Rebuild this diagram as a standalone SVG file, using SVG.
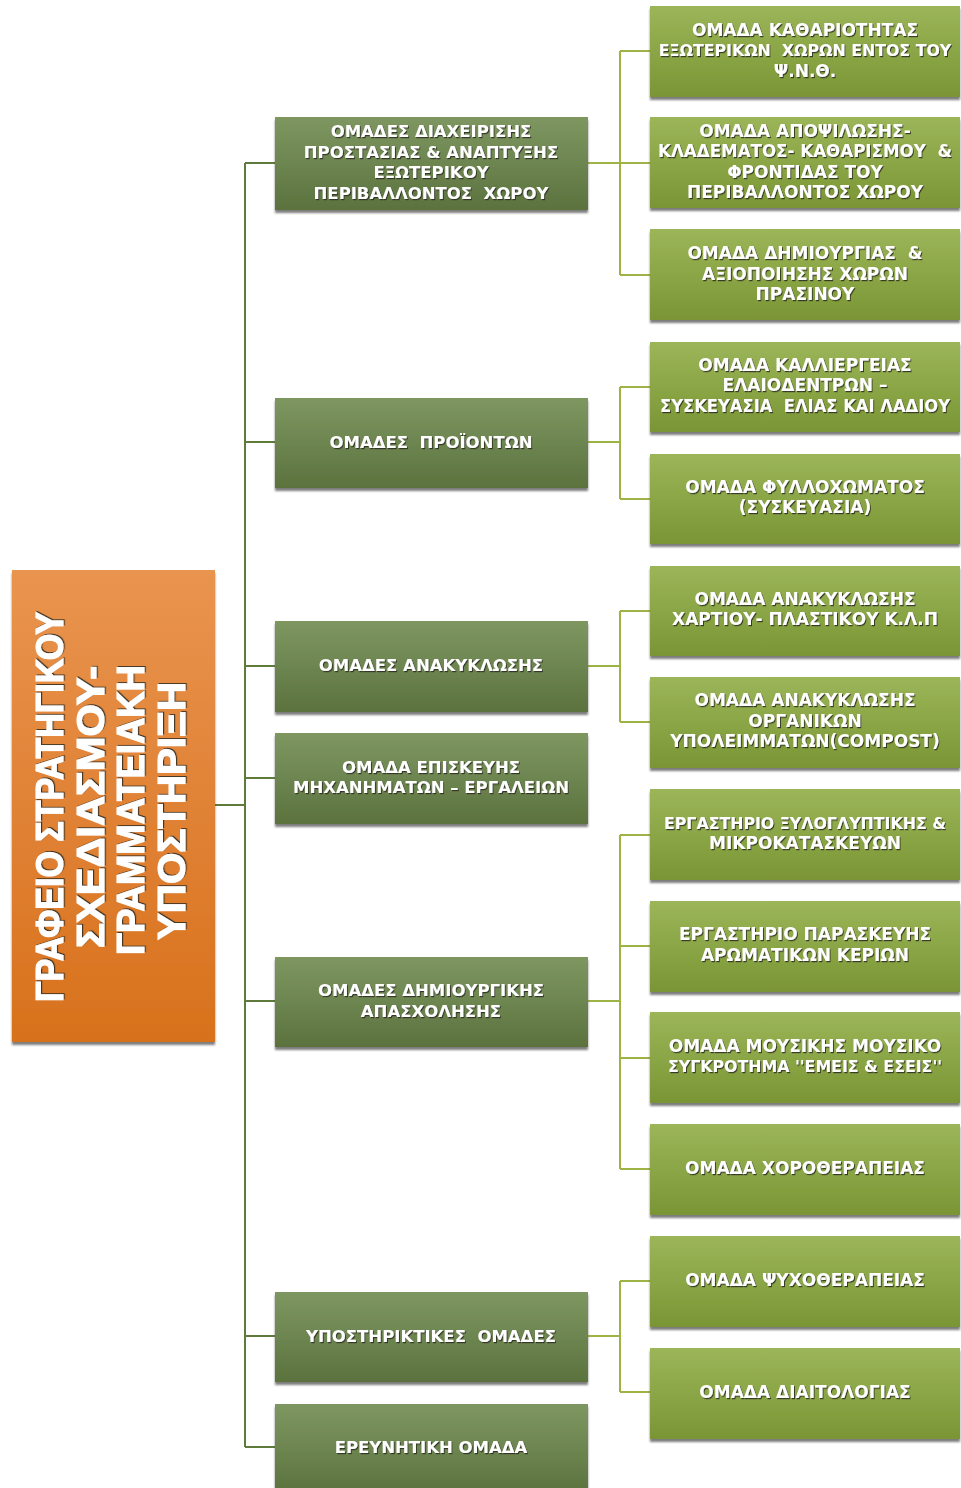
<svg xmlns="http://www.w3.org/2000/svg" width="961" height="1488" viewBox="0 0 961 1488">
<defs>
<linearGradient id="gOrange" x1="0" y1="0" x2="0" y2="1">
<stop offset="0" stop-color="#E9944F"/>
<stop offset="1" stop-color="#D8711C"/>
</linearGradient>
<linearGradient id="gMid" x1="0" y1="0" x2="0" y2="1">
<stop offset="0" stop-color="#7E9660"/>
<stop offset="0.5" stop-color="#6D8550"/>
<stop offset="1" stop-color="#5B723E"/>
</linearGradient>
<linearGradient id="gLeaf" x1="0" y1="0" x2="0" y2="1">
<stop offset="0" stop-color="#9BB559"/>
<stop offset="0.5" stop-color="#8BA646"/>
<stop offset="1" stop-color="#7A9534"/>
</linearGradient>
<filter id="boxShadow" x="-5%" y="-5%" width="110%" height="115%">
<feDropShadow dx="0" dy="3" stdDeviation="1.2" flood-color="#444" flood-opacity="0.7"/>
</filter>
<filter id="txtShadow" x="-5%" y="-20%" width="110%" height="150%">
<feDropShadow dx="1" dy="1.2" stdDeviation="0.7" flood-color="#2a2a1a" flood-opacity="0.85"/>
</filter>
</defs>
<style>
.root{fill:url(#gOrange);filter:url(#boxShadow)}
.mid{fill:url(#gMid);filter:url(#boxShadow)}
.leaf{fill:url(#gLeaf);filter:url(#boxShadow)}
.t{font-family:"DejaVu Sans","Liberation Sans",sans-serif;font-weight:bold;font-size:16.5px;fill:#ffffff;text-anchor:middle;white-space:pre;filter:url(#txtShadow)}
.l{font-size:17px}
.s{font-size:15.8px}
.rt{font-family:"Liberation Sans","DejaVu Sans",sans-serif;font-weight:bold;font-size:38px;fill:#ffffff;stroke:#ffffff;stroke-width:1.2;text-anchor:middle;filter:url(#txtShadow)}
.c1{fill:none;stroke:#5F7B3C;stroke-width:2}
.c2{fill:none;stroke:#9DB445;stroke-width:2}
</style>

<g id="connectors">
<path class="c1" d="M215 805 H245 M245 163 V1447 M245 163 H275 M245 442 H275 M245 666 H275 M245 778 H275 M245 1001 H275 M245 1336 H275 M245 1447 H275"/>
<path class="c2" d="M588 163 H620 M620 51 V275 M620 51 H650 M620 163 H650 M620 275 H650"/>
<path class="c2" d="M588 442 H620 M620 387 V499 M620 387 H650 M620 499 H650"/>
<path class="c2" d="M588 666 H620 M620 611 V722 M620 611 H650 M620 722 H650"/>
<path class="c2" d="M588 1001 H620 M620 835 V1169 M620 835 H650 M620 946 H650 M620 1058 H650 M620 1169 H650"/>
<path class="c2" d="M588 1336 H620 M620 1281 V1392 M620 1281 H650 M620 1392 H650"/>
</g>

<g id="root">
<rect class="root" x="12" y="570" width="203" height="472"/>
<text class="rt" transform="translate(63,807) rotate(-90)" textLength="390" lengthAdjust="spacingAndGlyphs">ΓΡΑΦΕΙΟ ΣΤΡΑΤΗΓΙΚΟΥ</text>
<text class="rt" transform="translate(104,807) rotate(-90)" textLength="282" lengthAdjust="spacingAndGlyphs">ΣΧΕΔΙΑΣΜΟΥ-</text>
<text class="rt" transform="translate(144,810) rotate(-90)" textLength="290" lengthAdjust="spacingAndGlyphs">ΓΡΑΜΜΑΤΕΙΑΚΗ</text>
<text class="rt" transform="translate(185,811) rotate(-90)" textLength="258" lengthAdjust="spacingAndGlyphs">ΥΠΟΣΤΗΡΙΞΗ</text>
</g>

<g id="m1">
<rect class="mid" x="275" y="117" width="313" height="93"/>
<text class="t" x="431" y="137">ΟΜΑΔΕΣ ΔΙΑΧΕΙΡΙΣΗΣ</text>
<text class="t" x="431" y="158">ΠΡΟΣΤΑΣΙΑΣ &amp; ΑΝΑΠΤΥΞΗΣ</text>
<text class="t" x="431" y="178">ΕΞΩΤΕΡΙΚΟΥ</text>
<text class="t" x="431" y="199">ΠΕΡΙΒΑΛΛΟΝΤΟΣ  ΧΩΡΟΥ</text>
</g>
<g id="m2">
<rect class="mid" x="275" y="398" width="313" height="90"/>
<text class="t" x="431" y="448">ΟΜΑΔΕΣ  ΠΡΟΪΟΝΤΩΝ</text>
</g>
<g id="m3">
<rect class="mid" x="275" y="621" width="313" height="91"/>
<text class="t" x="431" y="671">ΟΜΑΔΕΣ ΑΝΑΚΥΚΛΩΣΗΣ</text>
</g>
<g id="m4">
<rect class="mid" x="275" y="733" width="313" height="91"/>
<text class="t" x="431" y="773">ΟΜΑΔΑ ΕΠΙΣΚΕΥΗΣ</text>
<text class="t" x="431" y="793">ΜΗΧΑΝΗΜΑΤΩΝ – ΕΡΓΑΛΕΙΩΝ</text>
</g>
<g id="m5">
<rect class="mid" x="275" y="957" width="313" height="90"/>
<text class="t" x="431" y="996">ΟΜΑΔΕΣ ΔΗΜΙΟΥΡΓΙΚΗΣ</text>
<text class="t" x="431" y="1017">ΑΠΑΣΧΟΛΗΣΗΣ</text>
</g>
<g id="m6">
<rect class="mid" x="275" y="1292" width="313" height="90"/>
<text class="t" x="431" y="1342">ΥΠΟΣΤΗΡΙΚΤΙΚΕΣ  ΟΜΑΔΕΣ</text>
</g>
<g id="m7">
<rect class="mid" x="275" y="1404" width="313" height="90"/>
<text class="t" x="431" y="1453">ΕΡΕΥΝΗΤΙΚΗ ΟΜΑΔΑ</text>
</g>

<g id="r1">
<rect class="leaf" x="650" y="6" width="310" height="91"/>
<text class="t l" x="805" y="36">ΟΜΑΔΑ ΚΑΘΑΡΙΟΤΗΤΑΣ</text>
<text class="t s" x="805" y="56">ΕΞΩΤΕΡΙΚΩΝ  ΧΩΡΩΝ ΕΝΤΟΣ ΤΟΥ</text>
<text class="t l" x="805" y="77">Ψ.Ν.Θ.</text>
</g>
<g id="r2">
<rect class="leaf" x="650" y="117" width="310" height="91"/>
<text class="t l" x="805" y="137">ΟΜΑΔΑ ΑΠΟΨΙΛΩΣΗΣ-</text>
<text class="t l" x="805" y="157" textLength="294" lengthAdjust="spacingAndGlyphs">ΚΛΑΔΕΜΑΤΟΣ- ΚΑΘΑΡΙΣΜΟΥ  &amp;</text>
<text class="t l" x="805" y="178">ΦΡΟΝΤΙΔΑΣ ΤΟΥ</text>
<text class="t l" x="805" y="198">ΠΕΡΙΒΑΛΛΟΝΤΟΣ ΧΩΡΟΥ</text>
</g>
<g id="r3">
<rect class="leaf" x="650" y="229" width="310" height="91"/>
<text class="t l" x="805" y="259">ΟΜΑΔΑ ΔΗΜΙΟΥΡΓΙΑΣ  &amp;</text>
<text class="t l" x="805" y="280">ΑΞΙΟΠΟΙΗΣΗΣ ΧΩΡΩΝ</text>
<text class="t l" x="805" y="300">ΠΡΑΣΙΝΟΥ</text>
</g>
<g id="r4">
<rect class="leaf" x="650" y="342" width="310" height="90"/>
<text class="t l" x="805" y="371">ΟΜΑΔΑ ΚΑΛΛΙΕΡΓΕΙΑΣ</text>
<text class="t l" x="805" y="391">ΕΛΑΙΟΔΕΝΤΡΩΝ –</text>
<text class="t l" x="805" y="412" textLength="290" lengthAdjust="spacingAndGlyphs">ΣΥΣΚΕΥΑΣΙΑ  ΕΛΙΑΣ ΚΑΙ ΛΑΔΙΟΥ</text>
</g>
<g id="r5">
<rect class="leaf" x="650" y="454" width="310" height="90"/>
<text class="t l" x="805" y="493">ΟΜΑΔΑ ΦΥΛΛΟΧΩΜΑΤΟΣ</text>
<text class="t l" x="805" y="513">(ΣΥΣΚΕΥΑΣΙΑ)</text>
</g>
<g id="r6">
<rect class="leaf" x="650" y="566" width="310" height="90"/>
<text class="t l" x="805" y="605">ΟΜΑΔΑ ΑΝΑΚΥΚΛΩΣΗΣ</text>
<text class="t l" x="805" y="625">ΧΑΡΤΙΟΥ- ΠΛΑΣΤΙΚΟΥ Κ.Λ.Π</text>
</g>
<g id="r7">
<rect class="leaf" x="650" y="677" width="310" height="91"/>
<text class="t l" x="805" y="706">ΟΜΑΔΑ ΑΝΑΚΥΚΛΩΣΗΣ</text>
<text class="t l" x="805" y="727">ΟΡΓΑΝΙΚΩΝ</text>
<text class="t l" x="805" y="747">ΥΠΟΛΕΙΜΜΑΤΩΝ(COMPOST)</text>
</g>
<g id="r8">
<rect class="leaf" x="650" y="789" width="310" height="91"/>
<text class="t s" x="805" y="829">ΕΡΓΑΣΤΗΡΙΟ ΞΥΛΟΓΛΥΠΤΙΚΗΣ &amp;</text>
<text class="t l" x="805" y="849">ΜΙΚΡΟΚΑΤΑΣΚΕΥΩΝ</text>
</g>
<g id="r9">
<rect class="leaf" x="650" y="901" width="310" height="91"/>
<text class="t l" x="805" y="940">ΕΡΓΑΣΤΗΡΙΟ ΠΑΡΑΣΚΕΥΗΣ</text>
<text class="t l" x="805" y="961">ΑΡΩΜΑΤΙΚΩΝ ΚΕΡΙΩΝ</text>
</g>
<g id="r10">
<rect class="leaf" x="650" y="1012" width="310" height="91"/>
<text class="t l" x="805" y="1052">ΟΜΑΔΑ ΜΟΥΣΙΚΗΣ ΜΟΥΣΙΚΟ</text>
<text class="t s" x="805" y="1072">ΣΥΓΚΡΟΤΗΜΑ ''ΕΜΕΙΣ &amp; ΕΣΕΙΣ''</text>
</g>
<g id="r11">
<rect class="leaf" x="650" y="1124" width="310" height="91"/>
<text class="t l" x="805" y="1174">ΟΜΑΔΑ ΧΟΡΟΘΕΡΑΠΕΙΑΣ</text>
</g>
<g id="r12">
<rect class="leaf" x="650" y="1236" width="310" height="91"/>
<text class="t l" x="805" y="1286">ΟΜΑΔΑ ΨΥΧΟΘΕΡΑΠΕΙΑΣ</text>
</g>
<g id="r13">
<rect class="leaf" x="650" y="1348" width="310" height="91"/>
<text class="t l" x="805" y="1398">ΟΜΑΔΑ ΔΙΑΙΤΟΛΟΓΙΑΣ</text>
</g>
</svg>
